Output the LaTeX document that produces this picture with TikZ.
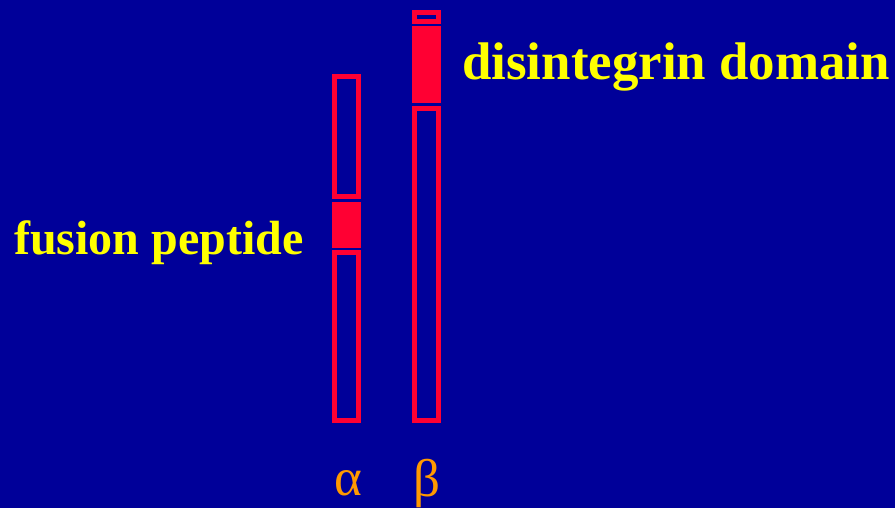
\documentclass[tikz,border=0pt]{standalone}
\usepackage{fontspec}
\setmainfont{Liberation Serif}
\definecolor{bg}{HTML}{000099}
\definecolor{bar}{HTML}{FF0033}
\definecolor{lab}{HTML}{FFFF00}
\definecolor{greek}{HTML}{FF9900}
\tikzset{
  seg/.style={draw=bar, line width=5.3pt, inner sep=0pt, outer sep=0pt, minimum width=23.7pt},
  segfill/.style={seg, fill=bar},
  bigtext/.style={text=lab, font=\bfseries\fontsize{48}{50}\selectfont, inner sep=0pt, anchor=base west},
  greektext/.style={text=greek, font=\fontsize{53}{55}\selectfont, inner sep=0pt, anchor=base}
}
\begin{document}
\begin{tikzpicture}[x=1pt,y=-1pt]
\fill[bg] (0,0) rectangle (895,508);
\useasboundingbox (0,0) rectangle (895,508);
% alpha chain
\node[seg, minimum height=120.2pt] (atop) at (346.5,136.75) {};
\node[segfill, minimum height=40.4pt] (afus) at (346.5,224.85) {};
\node[seg, minimum height=168pt] (abot) at (346.5,336.65) {};
% beta chain
\node[seg, minimum height=8.7pt] (btip) at (426.5,17) {};
\node[segfill, minimum height=71.7pt] (bdis) at (426.5,64.5) {};
\node[seg, minimum height=312pt] (bbot) at (426.5,264.65) {};
% labels
\node[bigtext] (fus) at (14,254.3) {fusion peptide};
\node[bigtext, font=\bfseries\fontsize{52.9}{55}\selectfont] (dis) at (462,79.3) {disintegrin domain};
\node[greektext] (alpha) at (348.5,495) {α};
\node[greektext] (beta) at (427,496) {β};
\end{tikzpicture}
\end{document}
